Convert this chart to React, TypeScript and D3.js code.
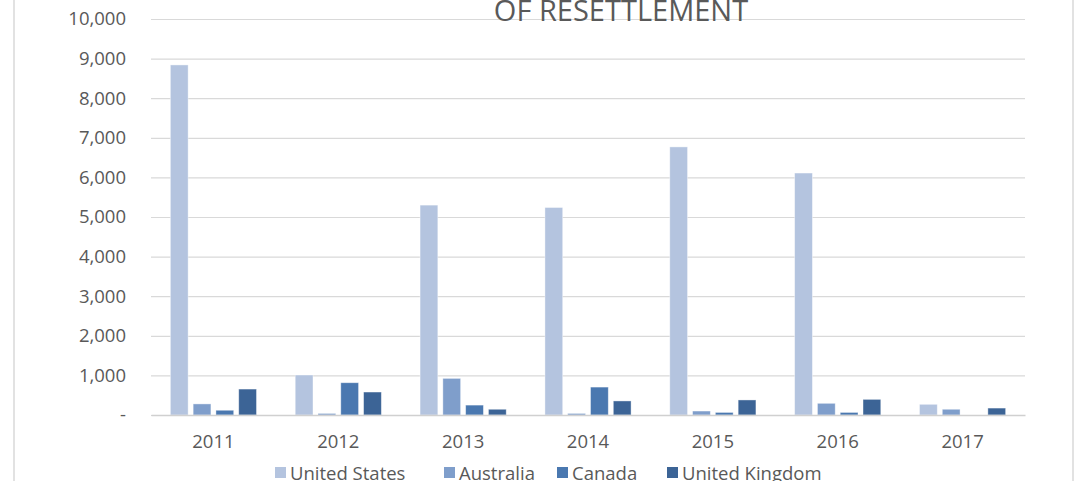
import React, { useEffect, useRef } from "react";
import * as d3 from "d3";

const years = ["2011", "2012", "2013", "2014", "2015", "2016", "2017"];
const seriesNames = ["United States", "Australia", "Canada", "United Kingdom"];
const unitedStates = [8840, 1010, 5300, 5240, 6770, 6110, 270];
const australia = [280, 40, 925, 40, 100, 295, 145];
const canada = [120, 815, 250, 705, 65, 65, 0];
const unitedKingdom = [655, 580, 145, 355, 380, 395, 175];
const yTicks = [0, 1000, 2000, 3000, 4000, 5000, 6000, 7000, 8000, 9000, 10000];
const colors = ["#b4c4df", "#7f9ecb", "#4a78b0", "#3c6496"];

const App: React.FC = () => {
  const svgRef = useRef<SVGSVGElement | null>(null);

  useEffect(() => {
    const width = 1087;
    const height = 481;
    const margin = { top: 19, right: 62, bottom: 66, left: 151 };
    const font = "'Open Sans', sans-serif";
    const textColor = "#595959";

    const svg = d3.select(svgRef.current);
    svg.selectAll("*").remove();
    svg.attr("width", width).attr("height", height);

    const allSeries = [unitedStates, australia, canada, unitedKingdom];
    const data = years.map((yr, i) => ({
      year: yr,
      values: seriesNames.map((name, j) => ({ name, value: allSeries[j][i], idx: j })),
    }));

    const x0 = d3
      .scaleBand()
      .domain(years)
      .range([margin.left, width - margin.right]);

    const groupW = x0.bandwidth() * 0.69;
    const x1 = d3
      .scaleBand()
      .domain(seriesNames)
      .range([0, groupW])
      .paddingInner(0.22)
      .paddingOuter(0);

    const y = d3
      .scaleLinear()
      .domain([0, 10000])
      .range([height - margin.bottom, margin.top]);

    // outer chart border
    svg
      .append("rect")
      .attr("x", 14)
      .attr("y", -2)
      .attr("width", 1059)
      .attr("height", height + 4)
      .attr("fill", "none")
      .attr("stroke", "#d9d9d9")
      .attr("stroke-width", 1.5);

    // Gridlines
    svg
      .append("g")
      .attr("transform", `translate(${margin.left},0)`)
      .call(
        d3.axisLeft(y)
          .tickValues(yTicks)
          .tickSize(-(width - margin.left - margin.right))
          .tickFormat(() => "")
      )
      .call(g => g.select(".domain").remove())
      .call(g => g.selectAll("line").attr("stroke", "#d9d9d9").attr("stroke-width", 1.2));

    // Title (cut off at top)
    svg
      .append("text")
      .attr("x", 621)
      .attr("y", 21)
      .attr("text-anchor", "middle")
      .attr("font-family", font)
      .attr("font-size", 29)
      .attr("fill", textColor)
      .text("OF RESETTLEMENT");

    // Bars
    svg
      .append("g")
      .selectAll("g")
      .data(data)
      .join("g")
      .attr("transform", d => `translate(${x0(d.year)! + (x0.bandwidth() - groupW) / 2},0)`)
      .selectAll("rect")
      .data(d => d.values)
      .join("rect")
      .attr("x", d => x1(d.name)!)
      .attr("y", d => y(d.value))
      .attr("width", x1.bandwidth())
      .attr("height", d => y(0) - y(d.value))
      .attr("fill", d => colors[d.idx])
      .attr("stroke", d => (d.value > 0 ? "#ffffff" : "none"))
      .attr("stroke-opacity", 0.5)
      .attr("stroke-width", 0.8);

    // Y labels
    svg
      .append("g")
      .attr("transform", `translate(${margin.left},0)`)
      .call(
        d3.axisLeft(y)
          .tickValues(yTicks)
          .tickSize(0)
          .tickPadding(25)
          .tickFormat(d => (+d === 0 ? "-" : d3.format(",")(+d)))
      )
      .call(g => g.select(".domain").remove())
      .call(g =>
        g.selectAll("text")
          .attr("font-family", font)
          .attr("font-size", 18.5)
          .attr("fill", textColor)
      );

    // X axis
    svg
      .append("g")
      .attr("transform", `translate(0,${y(0)})`)
      .call(d3.axisBottom(x0).tickSize(0).tickPadding(20))
      .call(g => g.select(".domain").attr("stroke", "#d0d0d0").attr("stroke-width", 1.5))
      .call(g =>
        g.selectAll("text")
          .attr("font-family", font)
          .attr("font-size", 18.5)
          .attr("fill", textColor)
      );

    // Legend
    const legendX = [275, 444, 557, 667];
    const legend = svg.append("g").attr("transform", `translate(0,467)`);
    seriesNames.forEach((name, i) => {
      legend
        .append("rect")
        .attr("x", legendX[i])
        .attr("y", 0)
        .attr("width", 11)
        .attr("height", 11)
        .attr("fill", colors[i]);
      legend
        .append("text")
        .attr("x", legendX[i] + 15)
        .attr("y", 13)
        .attr("font-family", font)
        .attr("font-size", 18.5)
        .attr("fill", textColor)
        .text(name);
    });
  }, []);

  return (
    <div style={{ position: "absolute", left: 0, top: 0 }}>
      <svg ref={svgRef} style={{ display: "block" }}></svg>
    </div>
  );
};

export default App;
